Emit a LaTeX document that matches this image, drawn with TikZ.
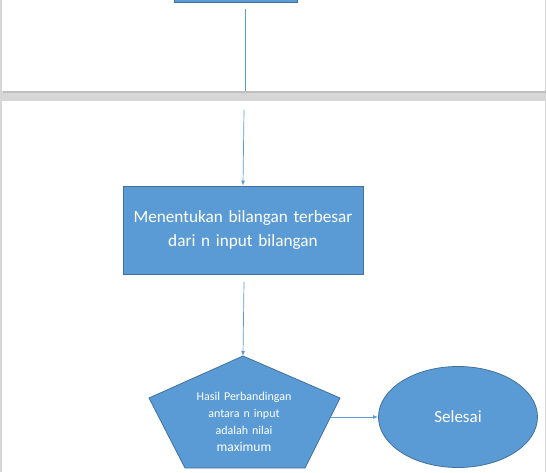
\documentclass[tikz,border=0pt]{standalone}
\usepackage{fontspec}
\setmainfont{Carlito}
\usetikzlibrary{positioning,shapes.geometric}

\definecolor{officeblue}{HTML}{5B9BD5}
\definecolor{officeedge}{HTML}{41719C}
\definecolor{deskgray}{HTML}{D6D6D6}

\tikzstyle{page} = [fill=white, draw=none]
\tikzstyle{process} = [rectangle, fill=officeblue, draw=officeedge, line width=0.8pt, text=white, text centered]
\tikzstyle{finish} = [ellipse, fill=officeblue, draw=officeedge, line width=0.8pt, text=white, minimum width=159pt, minimum height=101pt]
\tikzstyle{link} = [draw=officeblue, line width=0.7pt]
\tikzstyle{arrow} = [draw=officeblue, line width=0.7pt, -latex]

\begin{document}
\begin{tikzpicture}[x=1pt, y=1pt, node distance=2.5cm, auto]
  \useasboundingbox (0,0) rectangle (546,472);
  \clip (0,0) rectangle (546,472);
  % pages
  \fill[deskgray] (0,0) rectangle (546,472);
  \fill[black!25] (3,379) rectangle (546,382);
  \node[page, minimum width=543pt, minimum height=92pt, inner sep=0pt, anchor=south west] (page1) at (2,381) {};
  \node[page, minimum width=543pt, minimum height=371pt, inner sep=0pt, anchor=south west] (page2) at (2,0) {};

  % top box, cut off by the page edge
  \node[process, minimum width=123pt, minimum height=30pt, anchor=south] (start) at (235.5,469) {};
  \coordinate (startout) at (245,463);
  \coordinate (pageend) at (245,381);
  \draw[link] (startout) -- (pageend);
  \coordinate (pagestart) at (244,362);

  \node[process, minimum width=240pt, minimum height=88pt, text width=232pt, font=\fontsize{17.2}{24}\selectfont] (find) at (243,242) {Menentukan bilangan terbesar\\dari n input bilangan};
  \coordinate (findout) at (244,190);

  % pentagon
  \coordinate (p1) at (243,116);
  \coordinate (p2) at (340,74);
  \coordinate (p3) at (305,4);
  \coordinate (p4) at (185,4);
  \coordinate (p5) at (149,74);
  \fill[officeblue] (p1) -- (p2) -- (p3) -- (p4) -- (p5) -- cycle;
  \draw[officeedge, line width=0.8pt] (p1) -- (p2) -- (p3) -- (p4) -- (p5) -- cycle;
  \node[text=white, text centered, text width=120pt, font=\fontsize{12}{16.8}\selectfont] (result) at (244,50) {Hasil Perbandingan\\antara n input\\adalah nilai\\{\fontsize{13.5}{16.8}\selectfont maximum}};
  \coordinate (resultout) at (331,55);

  \node[finish, font=\fontsize{17}{20}\selectfont] (done) at (458,55) {Selesai};

  \draw[arrow] (pagestart) -- (find.north);
  \draw[arrow] (findout) -- (p1);
  \draw[arrow] (resultout) -- (done.west);
\end{tikzpicture}
\end{document}
